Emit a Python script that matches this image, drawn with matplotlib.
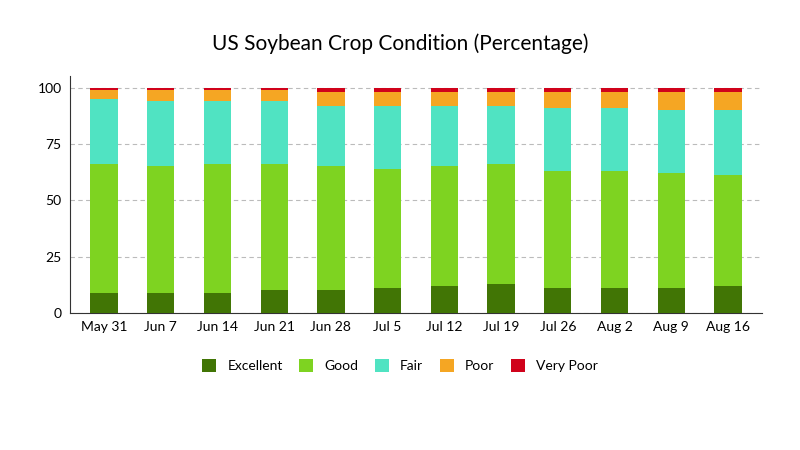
import matplotlib
matplotlib.use("Agg")
import matplotlib.pyplot as plt
import numpy as np

plt.rcParams["font.family"] = ["Lato", "DejaVu Sans"]

weeks = ["May 31", "Jun 7", "Jun 14", "Jun 21", "Jun 28", "Jul 5", "Jul 12",
         "Jul 19", "Jul 26", "Aug 2", "Aug 9", "Aug 16"]
excellent = [9, 9, 9, 10, 10, 11, 12, 13, 11, 11, 11, 12]
good = [57, 56, 57, 56, 55, 53, 53, 53, 52, 52, 51, 49]
fair = [29, 29, 28, 28, 27, 28, 27, 26, 28, 28, 28, 29]
poor = [4, 5, 5, 5, 6, 6, 6, 6, 7, 7, 8, 8]
very_poor = [1, 1, 1, 1, 2, 2, 2, 2, 2, 2, 2, 2]

series = [("Excellent", excellent, "#417505"), ("Good", good, "#7ed321"),
          ("Fair", fair, "#50e3c2"), ("Poor", poor, "#f5a623"),
          ("Very Poor", very_poor, "#d0021b")]

fig = plt.figure(figsize=(8, 4.5), dpi=100)
ax = fig.add_axes([0.0875, 0.305, 0.865, 0.525])
x = np.arange(len(weeks))
bottom = np.zeros(len(weeks))
for name, vals, col in series:
    ax.bar(x, vals, 0.48, bottom=bottom, color=col, label=name, zorder=3)
    bottom += np.array(vals)

ax.set_xlim(-0.6, len(weeks) - 0.4)
ax.set_ylim(0, 105)
ax.set_yticks([0, 25, 50, 75, 100])
ax.set_xticks(x)
ax.set_xticklabels(weeks)
ax.tick_params(labelsize=10, length=0, pad=6)
ax.grid(axis="y", linestyle=(0, (4, 3)), color="#bbbbbb", zorder=0)
for s in ["top", "right"]:
    ax.spines[s].set_visible(False)
ax.spines["left"].set_color("#333333")
ax.spines["bottom"].set_color("#333333")
fig.suptitle("US Soybean Crop Condition (Percentage)", y=0.925, fontsize=15)
fig.legend(loc="center", bbox_to_anchor=(0.5, 0.187), ncol=5, frameon=False,
           fontsize=10, handlelength=1, handleheight=1, columnspacing=1.2)
fig.savefig("out.png", dpi=100)
